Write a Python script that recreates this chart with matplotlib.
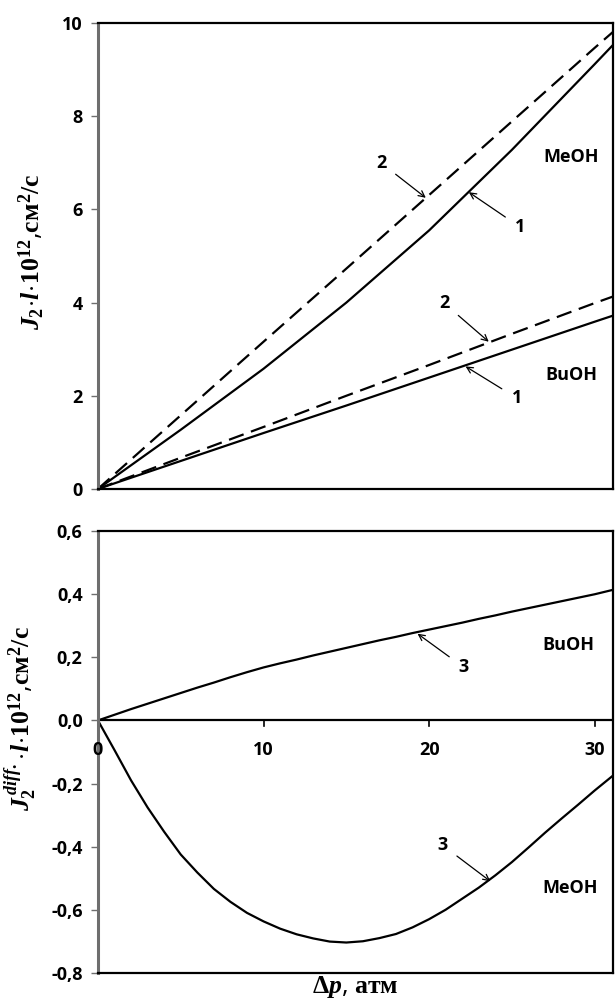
import numpy as np
import matplotlib
matplotlib.use("Agg")
import matplotlib.pyplot as plt

########################### DATA ###########################
# pressure drop, atm (top panel)
dp = [0, 5, 10, 15, 20, 25, 30, 31.1]

# top panel: J2*l*1e12, cm2/s
meoh_1 = [0, 1.27, 2.58, 4.0, 5.55, 7.28, 9.12, 9.53]
meoh_2 = [0, 1.58, 3.16, 4.73, 6.31, 7.89, 9.47, 9.81]
buoh_1 = [0, 0.6, 1.2, 1.79, 2.39, 2.99, 3.59, 3.72]
buoh_2 = [0, 0.67, 1.33, 2.0, 2.66, 3.33, 3.99, 4.13]

# bottom panel: diffusion part
dp_b = [0, 1, 2, 3, 4, 5, 6, 7, 8, 9, 10, 11, 12, 13, 14, 15, 16,
        17, 18, 19, 20, 21, 22, 23, 24, 25, 26, 27, 28, 29, 30, 31.1]
meoh_3 = [0, -0.094, -0.19, -0.276, -0.353, -0.425, -0.482, -0.534,
          -0.575, -0.61, -0.637, -0.66, -0.678, -0.691, -0.701, -0.704,
          -0.7, -0.69, -0.677, -0.656, -0.63, -0.6, -0.565, -0.53,
          -0.491, -0.449, -0.403, -0.356, -0.311, -0.267, -0.222, -0.175]
buoh_3 = [0, 0.018, 0.036, 0.053, 0.07, 0.087, 0.104, 0.12, 0.137,
          0.153, 0.168, 0.181, 0.193, 0.206, 0.218, 0.23, 0.242, 0.254,
          0.265, 0.277, 0.288, 0.299, 0.31, 0.322, 0.333, 0.345, 0.356,
          0.367, 0.378, 0.389, 0.4, 0.414]

y_top_ticks = [0, 2, 4, 6, 8, 10]
y_bot_ticks = [-0.8, -0.6, -0.4, -0.2, 0.0, 0.2, 0.4, 0.6]
x_ticks = [0, 10, 20, 30]
############################################################

plt.rcParams["font.family"] = "Open Sans"
plt.rcParams["font.weight"] = "bold"
plt.rcParams["mathtext.fontset"] = "custom"
plt.rcParams["mathtext.rm"] = "Liberation Serif:bold"
plt.rcParams["mathtext.it"] = "Liberation Serif:italic:bold"
plt.rcParams["mathtext.bf"] = "Liberation Serif:bold"

fig = plt.figure(figsize=(6.16, 10.06), dpi=100)
ax1 = fig.add_axes([0.159, 0.514, 0.836, 0.463])
ax2 = fig.add_axes([0.159, 0.033, 0.836, 0.439])

lw = 1.6
dash = (0, (7, 3.5))
gray = "#6e6e6e"
fs = 13
lab_fs = 18.5

def style_box(ax):
    for s in ["top", "right", "bottom"]:
        ax.spines[s].set_linewidth(1.6)
        ax.spines[s].set_color("black")
    ax.spines["left"].set_linewidth(2.2)
    ax.spines["left"].set_color(gray)
    ax.tick_params(axis="y", direction="out", length=5, width=1, color=gray,
                   labelsize=fs, pad=6)

def note(ax, txt, xy, xytext):
    ax.annotate(txt, xy=xy, xytext=xytext, fontsize=fs, fontweight="bold",
                ha="center", va="center",
                arrowprops=dict(arrowstyle="->", lw=0.9, color="black",
                                shrinkA=6, shrinkB=0, mutation_scale=11))

## top panel
ax1.plot(dp, meoh_1, color="black", lw=lw)
ax1.plot(dp, meoh_2, color="black", lw=lw, linestyle=dash)
ax1.plot(dp, buoh_1, color="black", lw=lw)
ax1.plot(dp, buoh_2, color="black", lw=lw, linestyle=dash)
ax1.set_xlim(0, 31.1)
ax1.set_ylim(0, 10)
ax1.set_xticks([])
ax1.set_yticks(y_top_ticks)
style_box(ax1)
ax1.set_ylabel(r"$J_2\!\cdot\! l\!\cdot\! \mathit{10^{12}}$,$\mathrm{см^2/с}$",
               fontsize=lab_fs)
ax1.yaxis.set_label_coords(-0.099, 0.51)

note(ax1, "2", (19.8, 6.25), (17.1, 7.0))
note(ax1, "1", (22.4, 6.37), (25.5, 5.62))
note(ax1, "2", (23.6, 3.16), (20.9, 3.99))
note(ax1, "1", (22.2, 2.63), (25.3, 1.95))
ax1.text(28.6, 7.12, "MeOH", fontsize=fs, fontweight="bold", ha="center", va="center")
ax1.text(28.6, 2.45, "BuOH", fontsize=fs, fontweight="bold", ha="center", va="center")

## bottom panel
ax2.plot(dp_b, buoh_3, color="black", lw=lw)
ax2.plot(dp_b, meoh_3, color="black", lw=lw)
ax2.set_xlim(0, 31.1)
ax2.set_ylim(-0.8, 0.6)
ax2.set_yticks(y_bot_ticks)
ax2.set_yticklabels([("%.1f" % v).replace(".", ",") for v in y_bot_ticks])
style_box(ax2)
ax2.axhline(0, color="black", lw=1.6)
ax2.set_xticks([])
for xv in x_ticks:
    ax2.plot([xv, xv], [0, -0.018], color="black", lw=1.2, clip_on=False)
    ax2.text(xv, -0.065, str(xv), fontsize=fs, fontweight="bold",
             ha="center", va="top")
ax2.set_ylabel(r"$J_2^{\,diff.}\!\cdot\! l\!\cdot\! \mathit{10^{12}}$,$\mathrm{см^2/с}$",
               fontsize=lab_fs)
ax2.yaxis.set_label_coords(-0.115, 0.575)
ax2.set_xlabel(r"$\mathrm{\Delta}p$, $\mathrm{атм}$", fontsize=lab_fs, labelpad=1)

note(ax2, "3", (19.3, 0.275), (22.1, 0.168))
note(ax2, "3", (23.7, -0.51), (20.8, -0.395))
ax2.text(28.4, 0.238, "BuOH", fontsize=fs, fontweight="bold", ha="center", va="center")
ax2.text(28.5, -0.53, "MeOH", fontsize=fs, fontweight="bold", ha="center", va="center")

fig.savefig("out.png", dpi=100)
